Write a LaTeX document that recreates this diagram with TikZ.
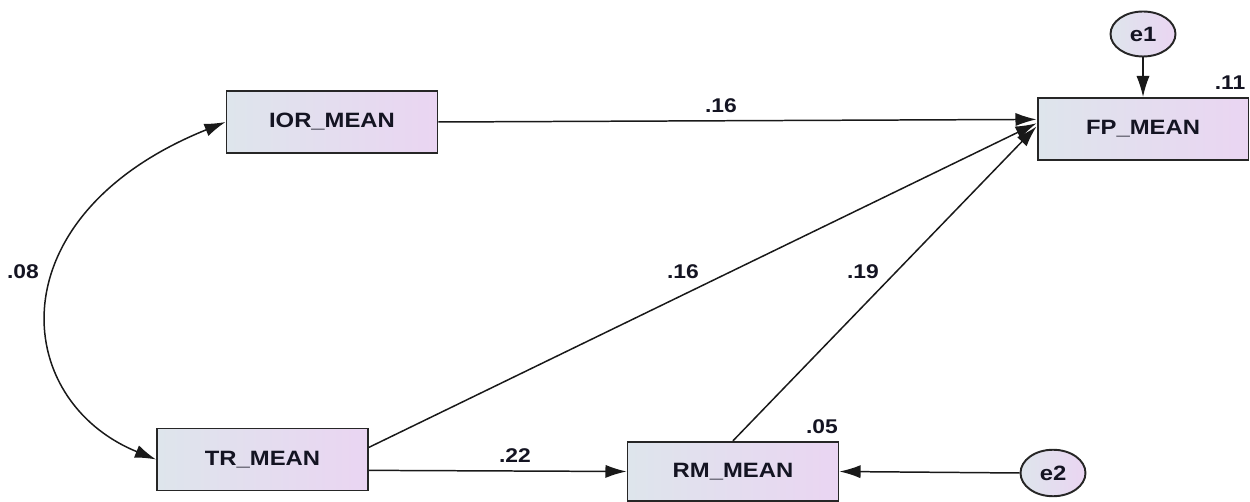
\documentclass[tikz,border=0pt]{standalone}
\usepackage{fontspec}
\setmainfont{Liberation Sans}[FakeStretch=1.15]
\usetikzlibrary{arrows.meta,shapes.geometric,calc}
\definecolor{gl}{HTML}{DEE5EC}
\definecolor{gr}{HTML}{EAD5F2}
\definecolor{txt}{HTML}{141422}
\tikzset{
  var/.style={draw=black!85, line width=1.1pt, left color=gl, right color=gr,
    minimum width=4.22cm, minimum height=1.24cm, inner sep=0pt,
    font=\fontsize{11.8}{13}\selectfont\bfseries, text=txt},
  err/.style={ellipse, draw=black!85, line width=1.1pt, left color=gl, right color=gr,
    minimum width=1.3cm, minimum height=0.9cm, inner sep=0pt,
    font=\fontsize{11.8}{13}\selectfont\bfseries, text=txt},
  lab/.style={font=\fontsize{11.3}{13}\selectfont\bfseries, text=txt, inner sep=0pt},
  path/.style={draw=black!90, line width=0.85pt, -{Latex[length=12pt,width=7.5pt]}},
}
\begin{document}
\begin{tikzpicture}[x=0.02cm,y=-0.02cm]
\useasboundingbox (0,0) rectangle (1250,502);
\node[var] (IOR) at (332,122) {IOR\_MEAN};
\node[var] (FP) at (1143,129) {FP\_MEAN};
\node[var] (TR) at (262.5,459.5) {TR\_MEAN};
\node[var, minimum height=1.19cm] (RM) at (733,471.5) {RM\_MEAN};
\node[err] (e1) at (1143,34) {e1};
\node[err, minimum height=0.93cm] (e2) at (1053,473) {e2};

\coordinate (FPa) at ($(FP.north west)!0.35!(FP.south west)$);
\coordinate (FPb) at ($(FP.north west)!0.41!(FP.south west)$);
\coordinate (FPc) at ($(FP.north west)!0.46!(FP.south west)$);
\coordinate (TRa) at ($(TR.north east)!0.31!(TR.south east)$);
\coordinate (TRb) at ($(TR.north east)!0.67!(TR.south east)$);
\coordinate (RMt) at (RM.north);

\draw[path] (IOR.east) -- (FPa);
\draw[path] (TRa) -- (FPb);
\draw[path] (RMt) -- (FPc);
\draw[path] (TRb) -- (RM.west);
\draw[path] (e1.south) -- (FP.north);
\draw[path] (e2.west) -- (RM.east);
\draw[path, {Latex[length=12pt,width=7.5pt]}-{Latex[length=12pt,width=7.5pt]}]
  (IOR.west) .. controls (-5,215) and (10,400) .. (TR.west);

\node[lab] (l1) at (721,106) {.16};
\node[lab] (l2) at (683,272) {.16};
\node[lab] (l3) at (863,272) {.19};
\node[lab] (l4) at (515,456) {.22};
\node[lab] (l5) at (23,272) {.08};
\node[lab] (l6) at (1230,83) {.11};
\node[lab] (l7) at (822,427) {.05};
\end{tikzpicture}
\end{document}
